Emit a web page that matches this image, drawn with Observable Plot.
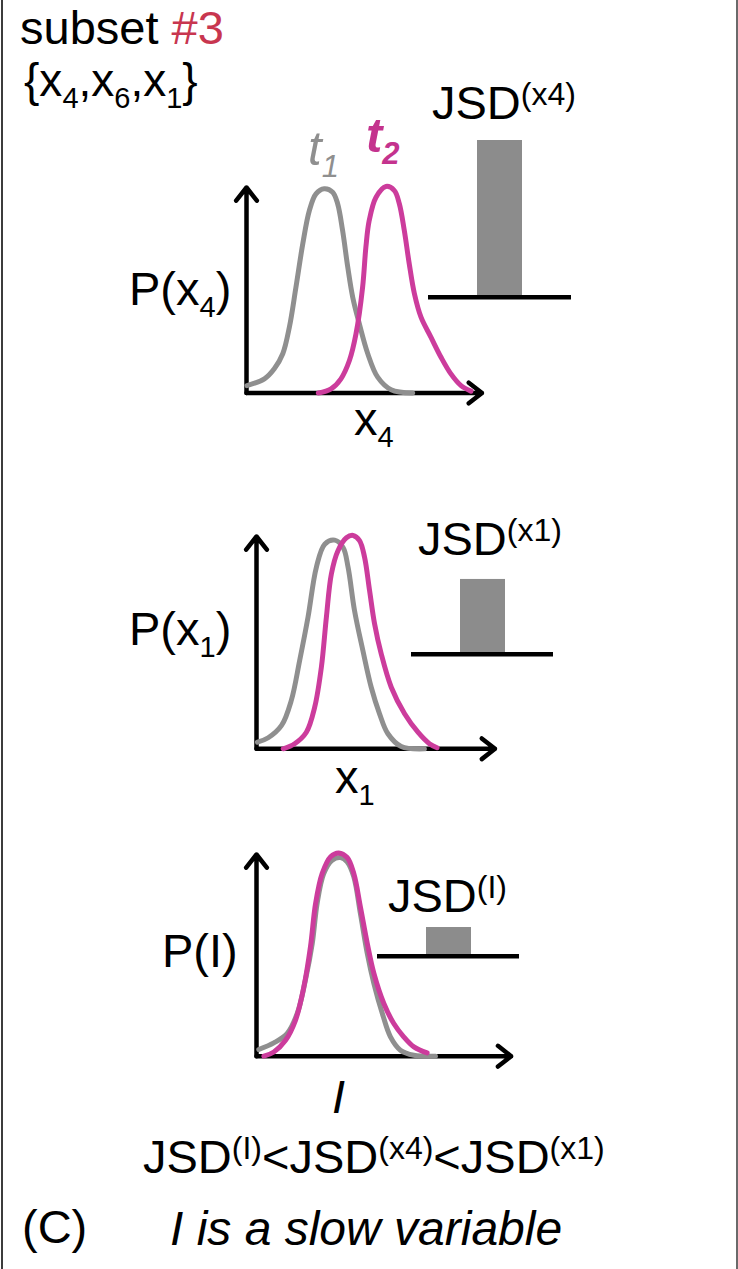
<!DOCTYPE html>
<html><head><meta charset="utf-8">
<script src="https://cdn.jsdelivr.net/npm/d3@7"></script>
<script src="https://cdn.jsdelivr.net/npm/@observablehq/plot@0.6"></script>
<style>
html,body{margin:0;padding:0;background:#fff;}
#fig{position:relative;width:738px;height:1269px;overflow:hidden;font-family:"Liberation Sans",Arial,Helvetica,sans-serif;background:#fff;}
#fig .frameL{position:absolute;left:1px;top:0;width:2px;height:1269px;background:#3c3c3c;}
#fig .frameR{position:absolute;left:736px;top:0;width:2px;height:1269px;background:#6a6a6a;}
.plotbox{position:absolute;}
.plotbox svg{overflow:visible;display:block;}
#labels{position:absolute;left:0;top:0;overflow:visible;}
</style></head><body><div id="fig"><div class="frameL"></div><div class="frameR"></div></div>
<script>
// ---------------- DATA ----------------
// density curves: [x, P(x)] in axis units (axis spans 0..10 in both directions)
const P_x4_t1 = [[0.02,0.36],[0.76,0.69],[1.18,1.18],[1.54,1.91],[1.82,3.20],[2.10,5.15],[2.39,7.26],[2.67,8.88],[2.95,9.69],[3.30,9.94],[3.66,9.77],[3.87,9.21],[4.08,7.91],[4.30,6.12],[4.51,4.66],[4.79,3.37],[5.15,1.91],[5.57,0.77],[6.14,0.16],[7.06,0.0]];
const P_x4_t2 = [[3.05,0.0],[3.59,0.20],[4.01,0.69],[4.37,1.58],[4.65,2.88],[4.93,5.15],[5.07,7.10],[5.21,8.39],[5.50,9.53],[5.92,10.05],[6.28,9.85],[6.49,9.21],[6.70,7.91],[6.91,6.29],[7.13,4.83],[7.41,3.69],[7.83,2.72],[8.26,1.74],[8.68,0.93],[9.11,0.36],[9.53,0.09]];
const P_x1_t1 = [[0.04,0.31],[0.49,0.52],[1.05,1.10],[1.46,2.28],[1.81,4.16],[2.16,6.20],[2.51,8.55],[2.86,9.64],[3.28,9.83],[3.63,9.48],[3.84,8.55],[4.11,6.51],[4.46,4.63],[4.81,2.90],[5.16,1.65],[5.51,0.71],[6.07,0.11],[7.04,0.0]];
const P_x1_t2 = [[1.12,0.0],[1.60,0.24],[2.09,0.78],[2.44,1.96],[2.72,3.84],[2.93,6.20],[3.14,8.24],[3.42,9.34],[3.77,9.94],[4.05,10.05],[4.32,9.81],[4.53,9.03],[4.74,7.46],[4.95,5.89],[5.23,4.47],[5.65,2.90],[6.21,1.65],[6.77,0.78],[7.25,0.24],[7.57,0.05]];
const P_I_t1 = [[0.09,0.33],[0.68,0.66],[1.20,1.12],[1.60,2.12],[1.92,3.77],[2.19,5.59],[2.38,7.57],[2.64,9.06],[2.97,9.72],[3.30,9.85],[3.56,9.63],[3.82,8.89],[4.08,7.07],[4.35,5.09],[4.61,3.60],[4.94,2.12],[5.26,0.96],[5.65,0.30],[6.18,0.05],[7.03,0.0]];
const P_I_t2 = [[0.29,0.0],[0.68,0.21],[1.14,0.79],[1.53,1.78],[1.86,3.44],[2.12,5.43],[2.32,7.57],[2.58,9.06],[2.91,9.89],[3.23,10.08],[3.56,9.85],[3.82,9.06],[4.08,7.40],[4.35,5.59],[4.61,4.10],[5.00,2.61],[5.39,1.62],[5.78,0.96],[6.18,0.46],[6.70,0.16]];
// JSD bars (relative to JSD(x4))
const jsdNames = ["x4", "x1", "I"];
const jsdValues = [1.0, 0.477, 0.183];
const seriesNames = ["t1", "t2"];

// ---------------- STYLE / LAYOUT ----------------
const GRAY = "#8f8f8f", MAGENTA = "#cc3c9c", BARGRAY = "#8c8c8c";
const panels = [
  {curves:[P_x4_t1, P_x4_t2], ox:245.5, oy:392.5, w:235.5, h:205.5, bx0:428, bx1:571, by:296.7},
  {curves:[P_x1_t1, P_x1_t2], ox:255.5, oy:748.3, w:238.5, h:212.3, bx0:411, bx1:553, by:654},
  {curves:[P_I_t1,  P_I_t2 ], ox:256,   oy:1056,  w:254.7, h:201.7, bx0:377, bx1:519, by:956}
];
const BAR_PX = 156.7; // pixels per unit of relative JSD
const BAR_W = 45;

const fig = document.getElementById("fig");
function place(svg, left, top) {
  const d = document.createElement("div");
  d.className = "plotbox";
  d.style.left = left + "px";
  d.style.top = top + "px";
  d.appendChild(svg);
  fig.appendChild(d);
}

panels.forEach((p, i) => {
  const m = 14;
  const data = [];
  p.curves.forEach((c, k) => c.forEach(([x, y]) => data.push({x, y, s: seriesNames[k]})));
  const dens = Plot.plot({
    width: p.w + 2 * m, height: p.h + 2 * m,
    marginLeft: m, marginRight: m, marginTop: m, marginBottom: m,
    x: {domain: [0, 10], axis: null},
    y: {domain: [0, 10], axis: null},
    color: {domain: seriesNames, range: [GRAY, MAGENTA]},
    style: {background: "transparent", overflow: "visible"},
    marks: [
      Plot.arrow([{x1: 0, y1: 0, x2: 0, y2: 10}, {x1: 0, y1: 0, x2: 10, y2: 0}],
        {x1: "x1", y1: "y1", x2: "x2", y2: "y2", stroke: "black", strokeWidth: 4.5, headLength: 5.6, headAngle: 76}),
      Plot.line(data, {x: "x", y: "y", z: "s", stroke: "s", strokeWidth: 5, curve: "catmull-rom"})
    ]
  });
  place(dens, p.ox - m, p.oy - p.h - m);

  const W = p.bx1 - p.bx0, mT = 4, mB = 4;
  const bar = Plot.plot({
    width: W, height: mT + BAR_PX + mB,
    marginLeft: 0, marginRight: 0, marginTop: mT, marginBottom: mB,
    x: {domain: [jsdNames[i]], axis: null, paddingInner: 0, paddingOuter: (W / BAR_W - 1) / 2},
    y: {domain: [0, 1], axis: null},
    style: {background: "transparent", overflow: "visible"},
    marks: [
      Plot.barY([{name: jsdNames[i], value: jsdValues[i]}], {x: "name", y: "value", fill: BARGRAY}),
      Plot.ruleY([0], {stroke: "black", strokeWidth: 4.5})
    ]
  });
  place(bar, p.bx0, p.by - BAR_PX - mT);
});

// ---------------- TEXT ----------------
const svg = d3.select(fig).append("svg").attr("id", "labels")
  .attr("width", 738).attr("height", 1269)
  .style("font-family", '"Liberation Sans", Arial, Helvetica, sans-serif');

// parts: [text, kind, colour] kind: "" | "sub" | "sup"
function label(x, y, size, parts, o = {}) {
  const t = svg.append("text").attr("x", x).attr("y", y).attr("font-size", size)
    .attr("fill", o.fill || "#000")
    .attr("font-style", o.italic ? "italic" : null)
    .attr("font-weight", o.bold ? "bold" : null)
    .attr("text-anchor", o.anchor || "start");
  let shift = 0;
  parts.forEach(([s, kind, col]) => {
    const target = kind === "sub" ? 12 : kind === "sup" ? -14 : 0;
    const ts = t.append("tspan").attr("dy", target - shift).text(s);
    if (kind === "sub") ts.attr("font-size", o.sub || 29);
    if (kind === "sup") ts.attr("font-size", 32);
    if (col) ts.attr("fill", col);
    shift = target;
  });
  return t;
}

label(20, 44, 47, [["subset ", ""], ["#3", "", "#c8364f"]]);
label(24, 96, 46, [["{x", ""], ["4", "sub"], [",x", ""], ["6", "sub"], [",x", ""], ["1", "sub"], ["}", ""]]);

label(308, 165, 49, [["t", ""], ["1", "sub"]], {fill: GRAY, italic: true, sub: 31});
label(366, 152, 49, [["t", ""], ["2", "sub"]], {fill: "#c4338e", italic: true, bold: true, sub: 31});

label(432, 119, 47, [["JSD", ""], ["(x4)", "sup"]]);
label(129, 305, 47, [["P(x", ""], ["4", "sub"], [")", ""]]);
label(354, 435, 47, [["x", ""], ["4", "sub"]]);

label(418, 555, 47, [["JSD", ""], ["(x1)", "sup"]]);
label(129, 645, 47, [["P(x", ""], ["1", "sub"], [")", ""]]);
label(335, 793, 47, [["x", ""], ["1", "sub"]]);

label(388, 912, 47, [["JSD", ""], ["(I)", "sup"]]);
label(162, 967, 47, [["P(I)", ""]]);
label(332, 1113, 47, [["I", ""]], {italic: true});

label(143, 1173, 47, [["JSD", ""], ["(I)", "sup"], ["<JSD", ""], ["(x4)", "sup"], ["<JSD", ""], ["(x1)", "sup"]]);
label(22, 1243, 47, [["(C)", ""]]);
label(170, 1245, 48, [["I is a slow variable", ""]], {italic: true});
</script></body></html>
